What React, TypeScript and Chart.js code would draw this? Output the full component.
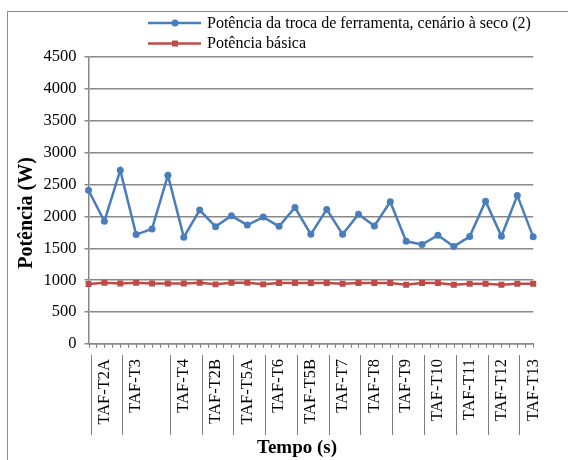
import React, { useEffect, useRef } from 'react';
import { Chart, registerables } from 'chart.js';

Chart.register(...registerables);

const categories = ['', 'TAF-T2A', '', 'TAF-T3', '', '', 'TAF-T4', '', 'TAF-T2B', '', 'TAF-T5A', '', 'TAF-T6', '', 'TAF-T5B', '', 'TAF-T7', '', 'TAF-T8', '', 'TAF-T9', '', 'TAF-T10', '', 'TAF-T11', '', 'TAF-T12', '', 'TAF-T13'];

const seriesNames = ['Potência da troca de ferramenta, cenário à seco (2)', 'Potência básica'];

const toolChangePower = [2410, 1925, 2725, 1715, 1805, 2645, 1675, 2100, 1840, 2010, 1865, 1990, 1845, 2140, 1720, 2110, 1720, 2035, 1850, 2230, 1610, 1560, 1705, 1530, 1685, 2240, 1690, 2330, 1680];

const basicPower = [940, 960, 948, 960, 948, 948, 948, 960, 935, 960, 960, 935, 955, 955, 955, 955, 945, 955, 955, 955, 930, 955, 955, 930, 945, 945, 930, 945, 945];

const yMin = 0;
const yMax = 4500;
const yStep = 500;

const xTitle = 'Tempo (s)';
const yTitle = 'Potência (W)';

const BLUE = '#4A7EBB';
const RED = '#BE4B48';
const GRID = '#888888';
const FONT = "'Liberation Serif', 'Times New Roman', serif";

const overlay = {
  id: 'overlay',
  beforeDraw(chart: any) {
    const ctx = chart.ctx;
    ctx.save();
    ctx.fillStyle = '#ffffff';
    ctx.fillRect(0, 0, chart.width, chart.height);
    ctx.strokeStyle = '#8c8c8c';
    ctx.lineWidth = 1;
    ctx.strokeRect(7.5, 11.5, chart.width + 20, chart.height + 20);
    ctx.restore();
  },
  afterDraw(chart: any) {
    const ctx = chart.ctx;
    const xs = chart.scales.x;
    const area = chart.chartArea;
    const step = xs.getPixelForValue(1) - xs.getPixelForValue(0);
    ctx.save();
    ctx.strokeStyle = GRID;
    ctx.lineWidth = 1;
    // minor tick marks under the category axis
    ctx.beginPath();
    for (let i = 0; i < categories.length; i++) {
      const p = xs.getPixelForValue(i);
      ctx.moveTo(Math.round(p) + 0.5, area.bottom);
      ctx.lineTo(Math.round(p) + 0.5, area.bottom + 4);
      if (i < categories.length - 1) {
        const h = p + step / 2;
        ctx.moveTo(Math.round(h) + 0.5, area.bottom);
        ctx.lineTo(Math.round(h) + 0.5, area.bottom + 4);
      }
    }
    ctx.stroke();
    // group separators
    ctx.strokeStyle = '#7f7f7f';
    ctx.beginPath();
    categories.forEach((c, i) => {
      if (!c) return;
      const p = Math.round(xs.getPixelForValue(i - 1) + 2) + 0.5;
      ctx.moveTo(p, area.bottom + 11);
      ctx.lineTo(p, area.bottom + 91);
    });
    ctx.stroke();

    // legend
    const legendItems = [
      { name: seriesNames[0], color: BLUE, y: 23, shape: 'circle' },
      { name: seriesNames[1], color: RED, y: 43.5, shape: 'rect' },
    ];
    legendItems.forEach((it) => {
      ctx.strokeStyle = it.color;
      ctx.lineWidth = 2.5;
      ctx.beginPath();
      ctx.moveTo(148, it.y);
      ctx.lineTo(201, it.y);
      ctx.stroke();
      ctx.fillStyle = it.color;
      ctx.beginPath();
      if (it.shape === 'circle') {
        ctx.arc(175, it.y, 3.5, 0, Math.PI * 2);
      } else {
        ctx.rect(172, it.y - 3, 6, 6);
      }
      ctx.fill();
      ctx.fillStyle = '#000';
      ctx.font = `16px ${FONT}`;
      ctx.textAlign = 'left';
      ctx.textBaseline = 'middle';
      ctx.fillText(it.name, 207, it.y + 0.5);
    });

    // axis titles
    ctx.fillStyle = '#000';
    ctx.font = `bold 19px ${FONT}`;
    ctx.textAlign = 'center';
    ctx.textBaseline = 'alphabetic';
    ctx.fillText(xTitle, 297, 453);

    ctx.save();
    ctx.translate(32, 213);
    ctx.rotate(-Math.PI / 2);
    ctx.font = `bold 20px ${FONT}`;
    ctx.fillText(yTitle, 0, 0);
    ctx.restore();

    ctx.restore();
  },
};

export default function App() {
  const ref = useRef<HTMLCanvasElement | null>(null);
  useEffect(() => {
    if (!ref.current) return;
    const chart = new Chart(ref.current, {
      type: 'line',
      data: {
        labels: categories,
        datasets: [
          {
            label: seriesNames[0],
            data: toolChangePower,
            borderColor: BLUE,
            backgroundColor: BLUE,
            borderWidth: 2.5,
            pointStyle: 'circle',
            pointRadius: 3.5,
            pointBorderWidth: 0,
            tension: 0,
          },
          {
            label: seriesNames[1],
            data: basicPower,
            borderColor: RED,
            backgroundColor: RED,
            borderWidth: 2.5,
            pointStyle: 'rect',
            pointRadius: 4.2,
            pointBorderWidth: 0,
            tension: 0,
          },
        ],
      },
      options: {
        responsive: false,
        animation: false,
        layout: { padding: { top: 57, right: 11, left: 0, bottom: 0 } },
        plugins: { legend: { display: false }, tooltip: { enabled: false } },
        scales: {
          x: {
            type: 'category',
            offset: false,
            grid: { display: false, drawTicks: false },
            border: { display: true, color: GRID, width: 1.5 },
            ticks: {
              autoSkip: false,
              maxRotation: 90,
              minRotation: 90,
              padding: 15,
              color: '#000',
              font: { family: FONT, size: 16.5 },
            },
            afterFit: (s: any) => {
              s.height = 116;
            },
          },
          y: {
            min: yMin,
            max: yMax,
            ticks: {
              stepSize: yStep,
              padding: 8,
              color: '#000',
              font: { family: FONT, size: 16.5 },
              callback: (v: any) => String(v),
            },
            grid: { color: GRID, lineWidth: 1.5, tickLength: 4, drawTicks: true },
            border: { display: true, color: GRID, width: 1.5 },
            afterFit: (s: any) => {
              s.width = 88.5;
            },
          },
        },
      },
      plugins: [overlay],
    });
    return () => chart.destroy();
  }, []);
  return (
    <div style={{ position: 'absolute', left: 0, top: 0, width: 568, height: 460 }}>
      <canvas ref={ref} width={568} height={460} />
    </div>
  );
}
